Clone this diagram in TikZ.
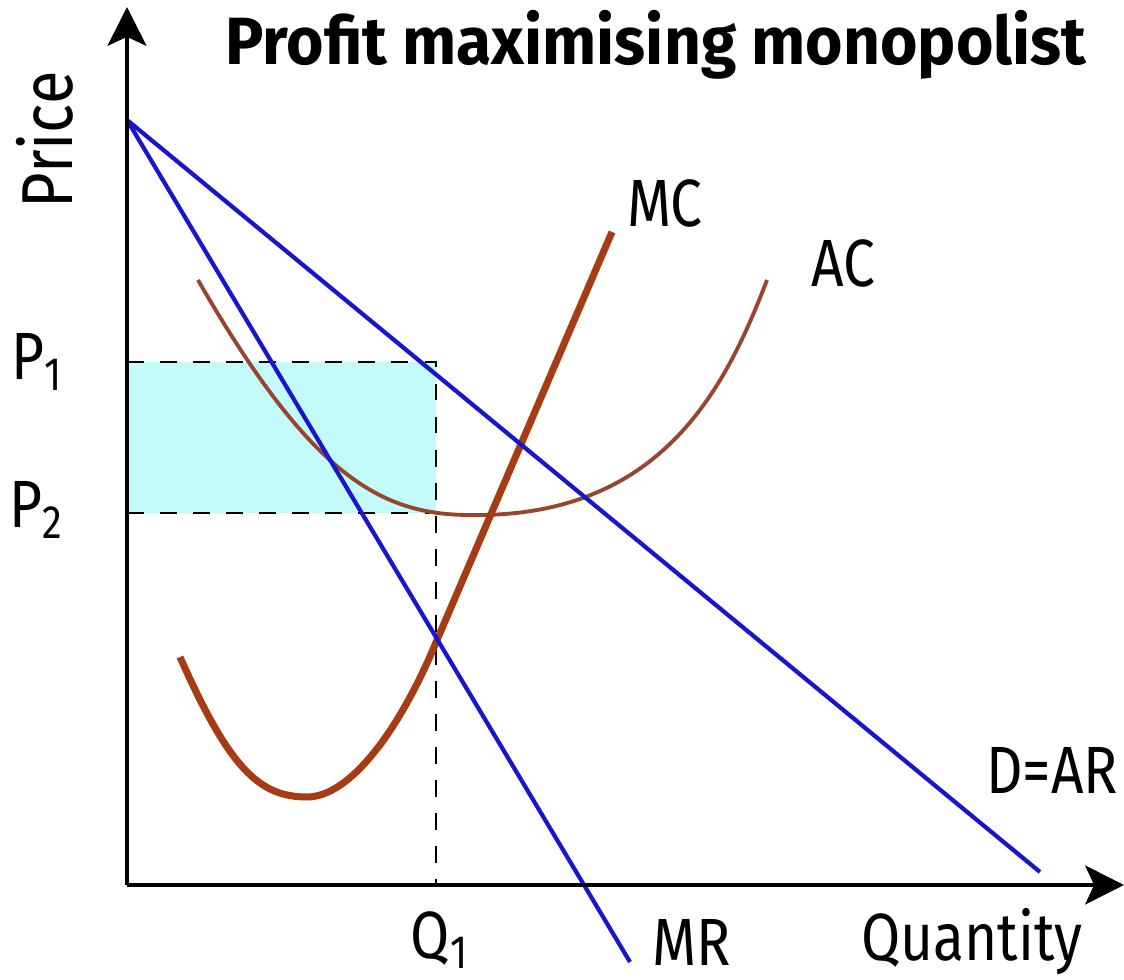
\documentclass[tikz,border=0pt]{standalone}
\usepackage{fontspec}
\setmainfont[FakeStretch=0.85]{Fira Sans}
\newfontfamily\titlefont[FakeStretch=0.96]{Fira Sans}
\usetikzlibrary{arrows.meta}

\definecolor{curveblue}{RGB}{25,20,205}
\definecolor{mcbrown}{RGB}{165,60,20}
\definecolor{acbrown}{RGB}{150,70,45}
\definecolor{profitfill}{RGB}{195,250,250}

\tikzset{
    axis/.style={line width=1.4pt, -{Stealth[length=11pt,width=11pt,inset=2.5pt]}},
    revline/.style={line width=1.2pt, curveblue},
    guide/.style={line width=0.75pt, dash pattern=on 4.8pt off 4.6pt},
    lab/.style={font=\fontsize{19}{19}\selectfont, inner sep=0pt},
}

\begin{document}
\begin{tikzpicture}[x=0.01cm, y=-0.01cm]
    \useasboundingbox (0,0) rectangle (1124,980);

    % PUNTS CLAU
    \coordinate (O) at (127,885);
    \coordinate (ytop) at (127,7);
    \coordinate (xend) at (1124,885);
    \coordinate (A) at (127,120);
    \coordinate (dend) at (1040,872);
    \coordinate (mrend) at (630,962);
    \coordinate (E) at (436,362);
    \coordinate (P1) at (127,362);
    \coordinate (P2) at (127,513);
    \coordinate (Q1) at (436,885);

    % AREA DE BENEFICI
    \fill[profitfill] (P1) rectangle (E |- P2);
    \draw[guide] (P1) -- (E) -- (Q1);
    \draw[guide] (P2) -- (E |- P2);

    % CORBES DE COST
    \draw[acbrown, line width=1.1pt] (198,280) .. controls (310,475) and (380,515) .. (470,515)
        .. controls (660,518) and (725,390) .. (767,280);
    \draw[mcbrown, line width=2pt] (180,657) .. controls (230,770) and (260,797) .. (307,797)
        .. controls (350,797) and (400,730) .. (437,640) -- (612,232);

    % INGRES MITJA I MARGINAL
    \draw[revline] (A) -- (dend);
    \draw[revline] (A) -- (mrend);

    % EIXOS
    \draw[axis] (O) -- (ytop);
    \draw[axis] (O) -- (xend);

    % ETIQUETES
    \node[lab, font=\titlefont\fontsize{19}{19}\selectfont\bfseries] (title) at (656,45) {Profit maximising monopolist};
    \node[lab, rotate=90, font=\fontsize{20.5}{20.5}\selectfont] (price) at (45,140) {Price};
    \node[lab] (p1lab) at (37,362) {P\textsubscript{1}};
    \node[lab] (p2lab) at (37,510) {P\textsubscript{2}};
    \node[lab] (q1lab) at (440,940) {Q\textsubscript{1}};
    \node[lab] (mrlab) at (692,942) {MR};
    \node[lab] (qtylab) at (972,942) {Quantity};
    \node[lab] (mclab) at (665,203) {MC};
    \node[lab] (aclab) at (843,263) {AC};
    \node[lab] (dlab) at (1052,770) {D=AR};
\end{tikzpicture}
\end{document}
